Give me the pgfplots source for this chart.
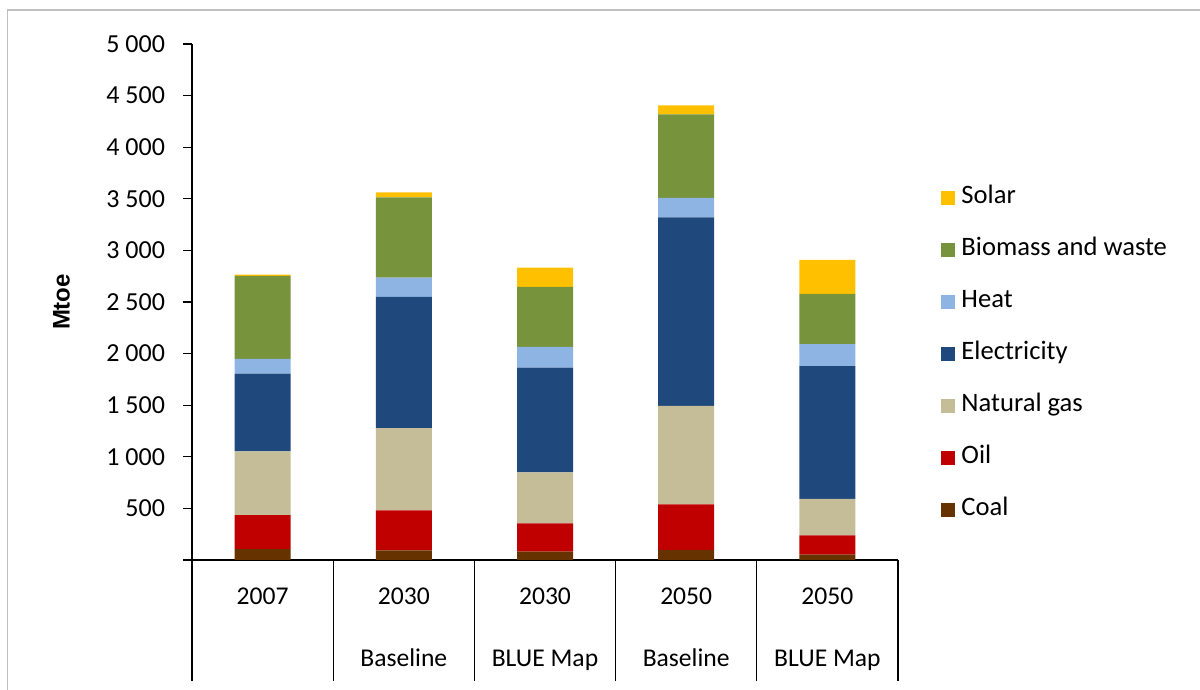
\documentclass[border=0pt]{standalone}
\usepackage{fontspec}
\setmainfont{Carlito}
\newfontfamily\arialfont{Liberation Sans}
\usepackage{pgfplots}
\usepackage{pgfplotstable}
\pgfplotsset{compat=1.18}
\definecolor{cCoal}{HTML}{663300}
\definecolor{cOil}{HTML}{C00000}
\definecolor{cGas}{HTML}{C4BD97}
\definecolor{cElec}{HTML}{1F497D}
\definecolor{cHeat}{HTML}{8EB4E3}
\definecolor{cBio}{HTML}{77933C}
\definecolor{cSolar}{HTML}{FFC000}
\pgfplotstableread{
x    coal oil gas  elec heat bio solar
0.5  106  330 616  755  142  803 14
1.5  94   387 797  1271 188  777 48
2.5  80   275 494  1016 200  581 187
3.5  97   442 955  1826 188  810 87
4.5  51   188 354  1285 213  487 329
}\datatable
\begin{document}
\begin{tikzpicture}
\useasboundingbox (0,0) rectangle (600pt,345pt);
\draw[black!25, line width=0.8pt] (3.75pt,-5pt) -- (3.75pt,340pt) -- (605pt,340pt);
\begin{axis}[
  at={(96pt,65pt)}, anchor=south west,
  scale only axis, width=353pt, height=258pt,
  ybar stacked, bar width=28pt,
  xmin=0, xmax=5, ymin=0, ymax=5000,
  axis x line*=bottom, axis y line*=left,
  axis line style={black, line width=0.6pt},
  tick align=outside, major tick length=4.5pt,
  tick style={black, line width=0.6pt},
  ytick={0,500,...,5000},
  yticklabels={{},500,1 000,1 500,2 000,2 500,3 000,3 500,4 000,4 500,5 000},
  yticklabel style={font=\fontsize{13}{15}\selectfont, xshift=-5.5pt},
  xtick={0.5,1.5,2.5,3.5,4.5},
  xtick style={draw=none},
  xticklabels={{2007},{2030\\Baseline},{2030\\BLUE Map},{2050\\Baseline},{2050\\BLUE Map}},
  xticklabel style={align=center, font=\fontsize{12.8}{31}\selectfont, anchor=north, yshift=-6pt},
  clip=false,
  ylabel={\arialfont\bfseries Mtoe},
  ylabel style={font=\fontsize{12}{14}\selectfont, at={(axis description cs:-0.163,0.5)}, anchor=south},
  reverse legend,
  legend cell align=left,
  legend image code/.code={\fill[#1] (0pt,-3.5pt) rectangle (7pt,3.5pt);},
  legend style={draw=none, fill=none, inner sep=0pt, at={(1.061,0.400)}, anchor=west,
    font=\fontsize{13.3}{15}\selectfont, row sep=16pt,
    nodes={inner sep=0pt, text height=8pt, text depth=2pt},
    /tikz/every odd column/.append style={column sep=3pt}},
]
\addplot[fill=cCoal, draw=none] table[x=x, y=coal] {\datatable};
\addplot[fill=cOil, draw=none] table[x=x, y=oil] {\datatable};
\addplot[fill=cGas, draw=none] table[x=x, y=gas] {\datatable};
\addplot[fill=cElec, draw=none] table[x=x, y=elec] {\datatable};
\addplot[fill=cHeat, draw=none] table[x=x, y=heat] {\datatable};
\addplot[fill=cBio, draw=none] table[x=x, y=bio] {\datatable};
\addplot[fill=cSolar, draw=none] table[x=x, y=solar] {\datatable};
\legend{Coal, Oil, Natural gas, Electricity, Heat, Biomass and waste, Solar}
\pgfplotsinvokeforeach{0,1,2,3,4,5}{
  \draw[black, line width=0.6pt] (axis cs:#1,0) -- ++(0pt,-60.5pt);
}
\end{axis}
\end{tikzpicture}
\end{document}
